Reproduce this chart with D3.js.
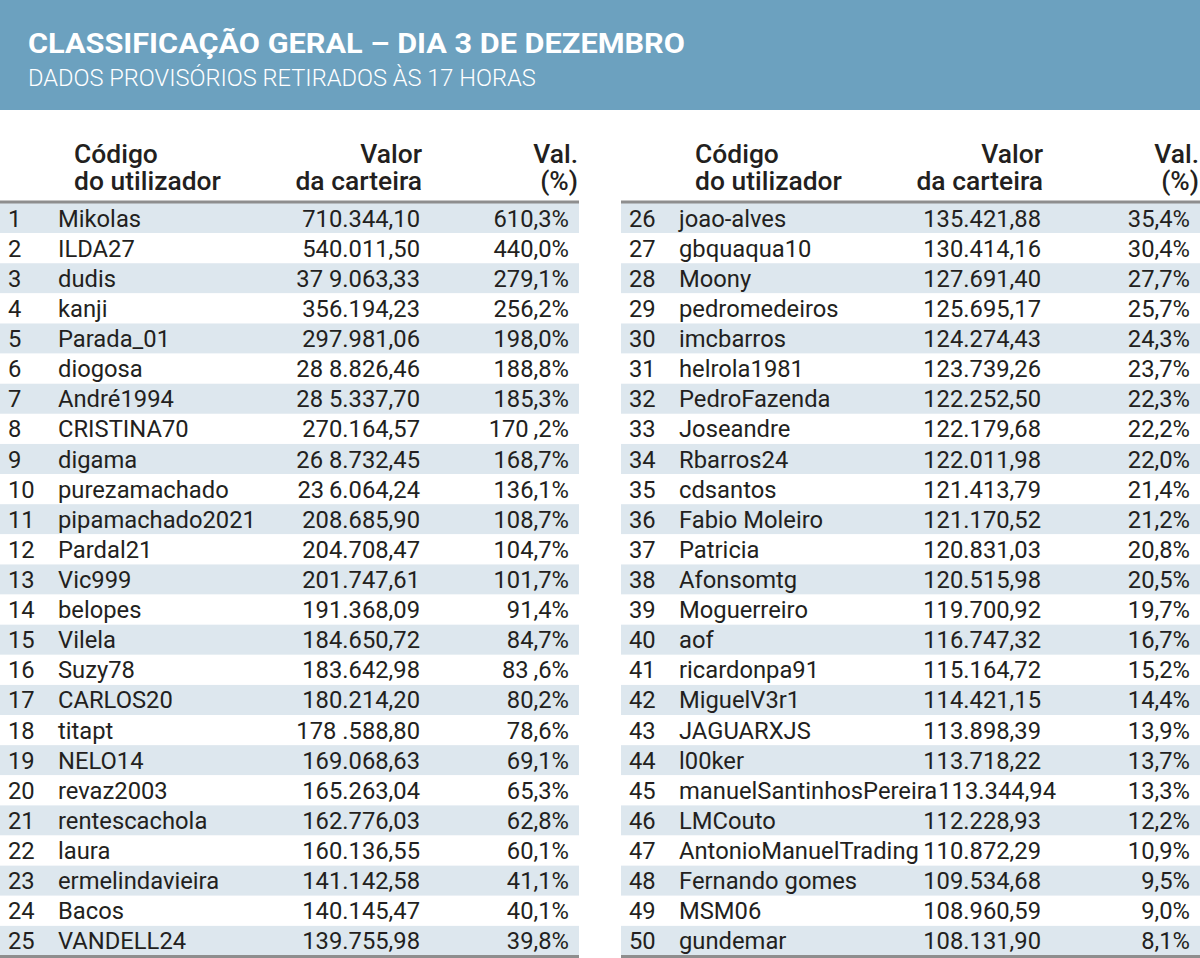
<!DOCTYPE html>
<html><head><meta charset="utf-8">
<script src="https://cdn.jsdelivr.net/npm/d3@7"></script>
<style>body{margin:0;background:#fff}svg{display:block}</style>
</head><body>
<svg id="c" width="1200" height="958"></svg>
<script>
const title = "CLASSIFICAÇÃO GERAL – DIA 3 DE DEZEMBRO";
const subtitle = "DADOS PROVISÓRIOS RETIRADOS ÀS 17 HORAS";
const headers = [["Código", "do utilizador"], ["Valor", "da carteira"], ["Val.", "(%)"]];
const ranks = [1,2,3,4,5,6,7,8,9,10,11,12,13,14,15,16,17,18,19,20,21,22,23,24,25,
  26,27,28,29,30,31,32,33,34,35,36,37,38,39,40,41,42,43,44,45,46,47,48,49,50];
const users = ["Mikolas","ILDA27","dudis","kanji","Parada_01","diogosa","André1994","CRISTINA70","digama","purezamachado",
  "pipamachado2021","Pardal21","Vic999","belopes","Vilela","Suzy78","CARLOS20","titapt","NELO14","revaz2003",
  "rentescachola","laura","ermelindavieira","Bacos","VANDELL24",
  "joao-alves","gbquaqua10","Moony","pedromedeiros","imcbarros","helrola1981","PedroFazenda","Joseandre","Rbarros24","cdsantos",
  "Fabio Moleiro","Patricia","Afonsomtg","Moguerreiro","aof","ricardonpa91","MiguelV3r1","JAGUARXJS","l00ker","manuelSantinhosPereira",
  "LMCouto","AntonioManuelTrading","Fernando gomes","MSM06","gundemar"];
const values = ["710.344,10","540.011,50","37 9.063,33","356.194,23","297.981,06","28 8.826,46","28 5.337,70","270.164,57","26 8.732,45","23\u20096.064,24",
  "208.685,90","204.708,47","201.747,61","191.368,09","184.650,72","183.642,98","180.214,20","178 .588,80","169.068,63","165.263,04",
  "162.776,03","160.136,55","141.142,58","140.145,47","139.755,98",
  "135.421,88","130.414,16","127.691,40","125.695,17","124.274,43","123.739,26","122.252,50","122.179,68","122.011,98","121.413,79",
  "121.170,52","120.831,03","120.515,98","119.700,92","116.747,32","115.164,72","114.421,15","113.898,39","113.718,22","113.344,94",
  "112.228,93","110.872,29","109.534,68","108.960,59","108.131,90"];
const changes = ["610,3%","440,0%","279,1%","256,2%","198,0%","188,8%","185,3%","170\u2009,2%","168,7%","136,1%",
  "108,7%","104,7%","101,7%","91,4%","84,7%","83\u2009,6%","80,2%","78,6%","69,1%","65,3%",
  "62,8%","60,1%","41,1%","40,1%","39,8%",
  "35,4%","30,4%","27,7%","25,7%","24,3%","23,7%","22,3%","22,2%","22,0%","21,4%",
  "21,2%","20,8%","20,5%","19,7%","16,7%","15,2%","14,4%","13,9%","13,7%","13,3%",
  "12,2%","10,9%","9,5%","9,0%","8,1%"];

const svg = d3.select("#c");
const FONT = "Roboto, 'Open Sans', sans-serif";
const TXT = "#231f20";

function measure(str, size, weight) {
  const t = svg.append("text").attr("font-family", FONT).attr("font-size", size)
    .attr("font-weight", weight).text(str);
  const w = t.node().getComputedTextLength();
  t.remove();
  return w;
}
const sxTitle = 657 / measure(title, 28, 700);
const sxSub = 508 / measure(subtitle, 23, 300);
const sxHead = 147 / measure("do utilizador", 25, 500);
const sxBody = 198 / measure("pipamachado2021", 24, 400);

function label(g, str, x, y, size, weight, sx, anchor, fill) {
  return g.append("text")
    .attr("transform", `translate(${x},${y}) scale(${sx},1)`)
    .attr("font-family", FONT).attr("font-size", size).attr("font-weight", weight)
    .attr("text-anchor", anchor).attr("fill", fill).text(str);
}

// header band
svg.append("rect").attr("x", 0).attr("y", 0).attr("width", 1200).attr("height", 110).attr("fill", "#6ca1bf");
label(svg, title, 28, 53, 28, 700, sxTitle, "start", "#fff");
label(svg, subtitle, 28, 86, 23, 300, sxSub, "start", "#fff");

const rows = d3.range(25);
const y = d3.scaleBand().domain(rows).range([203, 956]);
const tables = [{x0: 0, data: d3.range(0, 25)}, {x0: 621, data: d3.range(25, 50)}];
const W = 579;
const colX = {rank: 8, name: 58, value: 420, pct: 569};

tables.forEach(tb => {
  const g = svg.append("g").attr("transform", `translate(${tb.x0},0)`);
  g.selectAll("rect.s").data(tb.data).enter().append("rect")
    .attr("x", 0).attr("width", W)
    .attr("y", (d, i) => y(i)).attr("height", y.bandwidth())
    .attr("fill", (d, i) => i % 2 === 0 ? "#dde7ee" : "#fff");
  g.append("rect").attr("x", 0).attr("width", W).attr("y", 200.5).attr("height", 3).attr("fill", "#8e8e8e");
  g.append("rect").attr("x", 0).attr("width", W).attr("y", 955).attr("height", 3).attr("fill", "#8e8e8e");
  label(g, headers[0][0], 74, 163, 25, 500, sxHead, "start", TXT);
  label(g, headers[0][1], 74, 190, 25, 500, sxHead, "start", TXT);
  label(g, headers[1][0], 422, 163, 25, 500, sxHead, "end", TXT);
  label(g, headers[1][1], 422, 190, 25, 500, sxHead, "end", TXT);
  label(g, headers[2][0], 578, 163, 25, 500, sxHead, "end", TXT);
  label(g, headers[2][1], 578, 190, 25, 500, sxHead, "end", TXT);
  tb.data.forEach((d, i) => {
    const by = y(i) + y.bandwidth() / 2 + 8.5;
    label(g, ranks[d], colX.rank, by, 24, 400, sxBody, "start", TXT);
    const nm = label(g, users[d], colX.name, by, 24, 400, sxBody, "start", TXT);
    const nameEnd = colX.name + nm.node().getComputedTextLength() * sxBody;
    const vw = measure(values[d], 24, 400) * sxBody;
    const vx = Math.max(colX.value, nameEnd + vw + 1);
    label(g, values[d], vx, by, 24, 400, sxBody, "end", TXT);
    label(g, changes[d], colX.pct, by, 24, 400, sxBody, "end", TXT);
  });
});
</script>
</body></html>
